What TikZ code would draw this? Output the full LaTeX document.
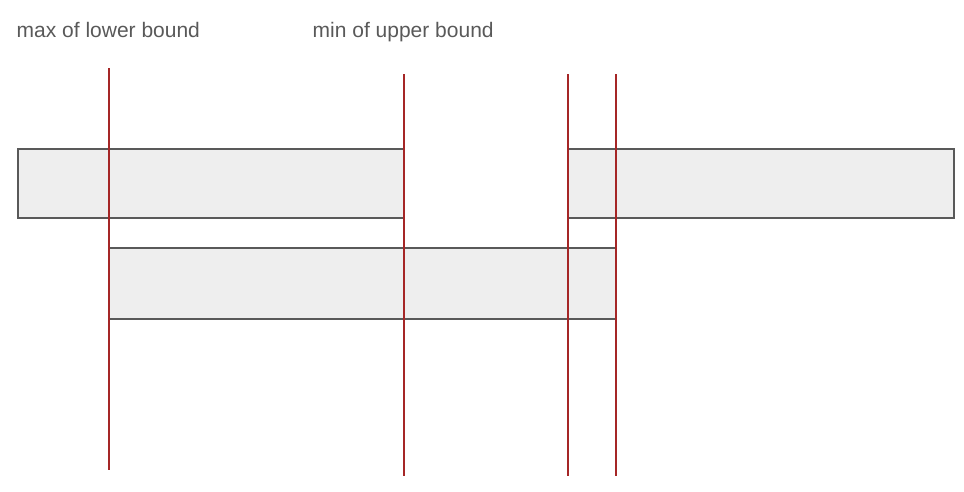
\documentclass[tikz,border=0pt]{standalone}
\usepackage{fontspec}
\setmainfont{Liberation Sans}
\definecolor{barfill}{HTML}{EEEEEE}
\definecolor{barline}{HTML}{595959}
\definecolor{boundred}{HTML}{A52626}
\definecolor{labelgray}{HTML}{595959}
\begin{document}
\begin{tikzpicture}[x=1pt,y=-1pt,
  bar/.style={draw=barline,fill=barfill,line width=1.5pt,rectangle,inner sep=0pt,outer sep=0pt,anchor=north west},
  bound/.style={draw=boundred,line width=1.6pt},
  lbl/.style={text=labelgray,font=\fontsize{21}{24}\selectfont,anchor=base west,inner sep=0pt}]
\useasboundingbox (0,0) rectangle (964,491);
\node[bar,minimum width=386pt,minimum height=69pt] (b1) at (18,149) {};
\node[bar,minimum width=386pt,minimum height=69pt] (b2) at (568,149) {};
\node[bar,minimum width=507pt,minimum height=71pt] (b3) at (109,248) {};
\node[lbl] (t1) at (16.5,37) {max of lower bound};
\node[lbl] (t2) at (312.5,37) {min of upper bound};
\coordinate (l1a) at (109,68); \coordinate (l1b) at (109,470);
\coordinate (l2a) at (404,74); \coordinate (l2b) at (404,476);
\coordinate (l3a) at (568,74); \coordinate (l3b) at (568,476);
\coordinate (l4a) at (616,74); \coordinate (l4b) at (616,476);
\draw[bound] (l1a) -- (l1b);
\draw[bound] (l2a) -- (l2b);
\draw[bound] (l3a) -- (l3b);
\draw[bound] (l4a) -- (l4b);
\end{tikzpicture}
\end{document}
